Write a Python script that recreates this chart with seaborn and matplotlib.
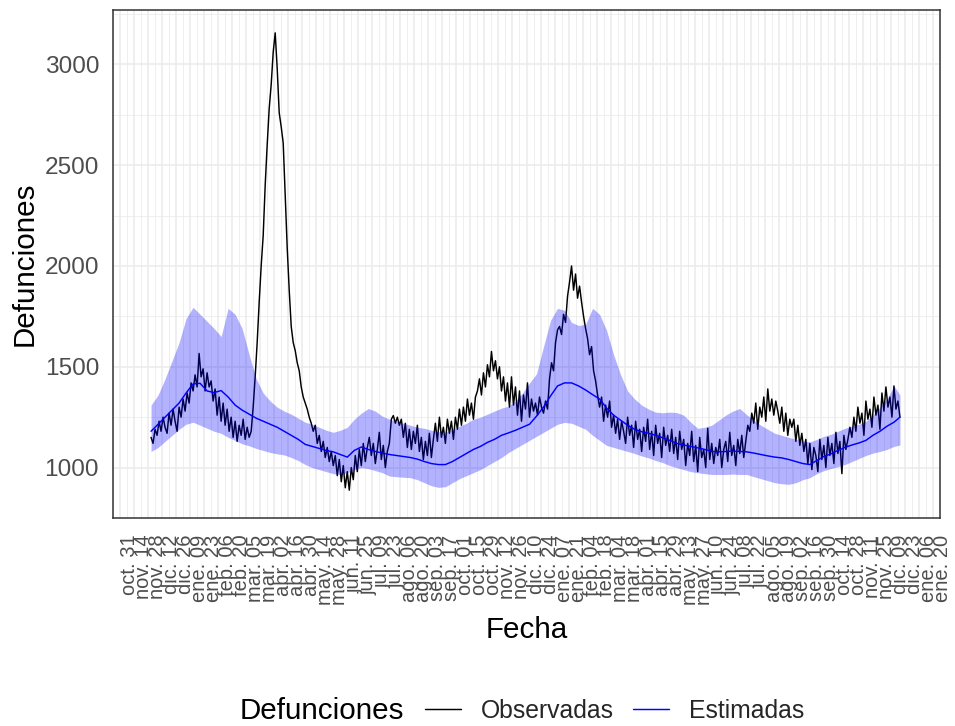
import numpy as np
import pandas as pd
import matplotlib
matplotlib.use("Agg")
import matplotlib.pyplot as plt
import seaborn as sns
from matplotlib.lines import Line2D

# ---------------- data ----------------
START = "2019-12-01"

# observed deaths, one value every 2 days
observadas = [
    1150, 1120, 1190, 1160, 1230, 1180, 1250, 1200, 1170, 1270,
    1210, 1290, 1230, 1180, 1300, 1250, 1340, 1280, 1370, 1320,
    1420, 1380, 1460, 1400, 1566, 1450, 1490, 1380, 1470, 1400,
    1430, 1330, 1390, 1260, 1350, 1230, 1320, 1210, 1290, 1180,
    1250, 1150, 1230, 1130, 1210, 1160, 1240, 1140, 1200, 1150,
    1180, 1300, 1450, 1620, 1820, 2000, 2150, 2400, 2600, 2780,
    2900, 3060, 3156, 2980, 2760, 2690, 2610, 2350, 2090, 1880,
    1700, 1620, 1580, 1520, 1480, 1400, 1350, 1320, 1290, 1250,
    1220, 1180, 1210, 1120, 1160, 1080, 1130, 1050, 1100, 1030,
    1080, 1010, 1060, 960, 1040, 930, 1010, 900, 980, 888,
    1000, 940, 1060, 980, 1090, 1010, 1120, 1030, 1100, 1150,
    1060, 1120, 1020, 1090, 1175, 1040, 1110, 1000, 1080, 1120,
    1240, 1258, 1220, 1250, 1210, 1240, 1150, 1220, 1100, 1190,
    1090, 1180, 1120, 1210, 1080, 1150, 1040, 1130, 1060, 1170,
    1050, 1140, 1220, 1130, 1250, 1150, 1200, 1120, 1240, 1170,
    1230, 1140, 1250, 1190, 1290, 1210, 1300, 1230, 1340, 1260,
    1320, 1240, 1350, 1380, 1440, 1360, 1470, 1400, 1510, 1450,
    1576, 1480, 1530, 1440, 1500, 1380, 1450, 1330, 1420, 1300,
    1450, 1310, 1400, 1260, 1380, 1230, 1360, 1290, 1420, 1250,
    1340, 1280, 1320, 1260, 1350, 1300, 1270, 1330, 1290, 1440,
    1520, 1480, 1620, 1683, 1700, 1660, 1760, 1720, 1850, 1920,
    2000, 1880, 1960, 1840, 1900, 1820, 1750, 1690, 1640, 1560,
    1600, 1480, 1430, 1360, 1300, 1350, 1230, 1310, 1250, 1330,
    1200, 1260, 1170, 1240, 1140, 1230, 1180, 1120, 1250, 1160,
    1210, 1100, 1230, 1140, 1190, 1080, 1200, 1130, 1240, 1090,
    1180, 1060, 1210, 1120, 1170, 1050, 1200, 1110, 1160, 1080,
    1190, 1070, 1150, 1040, 1180, 1090, 1140, 1010, 1120, 1060,
    1180, 1030, 1110, 980, 1150, 1050, 1090, 1000, 1195, 1040,
    1120, 1020, 1100, 1060, 1140, 1000, 1090, 1130, 1030, 1175,
    1060, 1110, 1010, 1140, 1070, 1160, 1050, 1130, 1210, 1180,
    1270, 1220, 1320, 1190, 1300, 1250, 1350, 1230, 1390, 1280,
    1340, 1260, 1330, 1280, 1220, 1300, 1180, 1270, 1160, 1240,
    1200, 1240, 1130, 1210, 1110, 1170, 1080, 1140, 1020, 1120,
    990, 1100, 1060, 980, 1140, 1040, 1110, 1000, 1150, 1060,
    1120, 1020, 1175, 1070, 1130, 970, 1160, 1090, 1140, 1200,
    1150, 1250, 1180, 1300, 1220, 1270, 1160, 1330, 1240, 1290,
    1200, 1350, 1260, 1310, 1190, 1370, 1280, 1400, 1300, 1350,
    1250, 1405, 1290, 1330, 1250,
]

# expected deaths and band, weekly (last value at the end of the observed series)
estimadas = [
    1180, 1215, 1250, 1285, 1320, 1370, 1415, 1418, 1380, 1372,
    1382, 1350, 1310, 1285, 1265, 1245, 1230, 1215, 1200, 1180,
    1160, 1140, 1115, 1105, 1095, 1085, 1078, 1065, 1052, 1085,
    1102, 1090, 1080, 1072, 1065, 1060, 1055, 1050, 1042, 1030,
    1020, 1015, 1015, 1030, 1050, 1070, 1090, 1105, 1125, 1140,
    1160, 1172, 1185, 1200, 1215, 1255, 1300, 1355, 1405, 1420,
    1420, 1405, 1385, 1362, 1340, 1295, 1260, 1235, 1210, 1190,
    1178, 1170, 1160, 1148, 1135, 1120, 1112, 1105, 1098, 1090,
    1080, 1078, 1080, 1082, 1080, 1078, 1072, 1065, 1058, 1052,
    1048, 1040, 1030, 1020, 1015, 1035, 1055, 1068, 1085, 1100,
    1112, 1122, 1135, 1160, 1180, 1205, 1225, 1250,
]
limite_sup = [
    1310, 1360, 1440, 1530, 1620, 1740, 1795, 1760, 1725, 1690,
    1650, 1790, 1760, 1690, 1560, 1440, 1370, 1330, 1300, 1280,
    1265, 1245, 1225, 1215, 1200, 1185, 1175, 1185, 1200, 1240,
    1270, 1293, 1280, 1255, 1240, 1230, 1220, 1210, 1200, 1195,
    1185, 1178, 1175, 1190, 1205, 1220, 1240, 1250, 1265, 1280,
    1295, 1305, 1330, 1370, 1420, 1465, 1600, 1730, 1790, 1780,
    1720, 1705, 1710, 1790, 1760, 1680, 1560, 1460, 1380, 1340,
    1310, 1290, 1275, 1272, 1275, 1273, 1260, 1225, 1195, 1200,
    1210, 1235, 1260, 1280, 1293, 1262, 1235, 1210, 1190, 1170,
    1160, 1150, 1140, 1132, 1127, 1140, 1155, 1165, 1180, 1195,
    1205, 1215, 1230, 1260, 1300, 1340, 1405, 1360,
]
limite_inf = [
    1080, 1100, 1130, 1160, 1190, 1215, 1225, 1210, 1195, 1180,
    1170, 1150, 1135, 1118, 1108, 1095, 1085, 1075, 1068, 1063,
    1050, 1035, 1015, 1000, 990, 980, 970, 965, 975, 990,
    1000, 995, 985, 975, 958, 955, 952, 950, 940, 925,
    910, 902, 905, 925, 945, 960, 975, 990, 1010, 1030,
    1050, 1075, 1095, 1115, 1135, 1155, 1175, 1195, 1215, 1224,
    1220, 1205, 1190, 1160, 1135, 1110, 1100, 1090, 1080, 1070,
    1058, 1048, 1035, 1025, 1010, 1000, 990, 980, 975, 970,
    966, 966, 966, 968, 966, 966, 955, 945, 935, 925,
    920, 917, 925, 940, 950, 970, 985, 995, 1005, 1015,
    1030, 1045, 1060, 1072, 1080, 1090, 1105, 1112,
]

tick_labels = [
    "oct. 31", "nov. 14", "nov. 28", "dic. 12", "dic. 26",
    "ene. 09", "ene. 23", "feb. 06", "feb. 20", "mar. 05", "mar. 19",
    "abr. 02", "abr. 16", "abr. 30", "may. 14", "may. 28", "jun. 11",
    "jun. 25", "jul. 09", "jul. 23", "ago. 06", "ago. 20", "sep. 03",
    "sep. 17", "oct. 01", "oct. 15", "oct. 29", "nov. 12", "nov. 26",
    "dic. 10", "dic. 24",
    "ene. 07", "ene. 21", "feb. 04", "feb. 18", "mar. 04", "mar. 18",
    "abr. 01", "abr. 15", "abr. 29", "may. 13", "may. 27", "jun. 10",
    "jun. 24", "jul. 08", "jul. 22", "ago. 05", "ago. 19", "sep. 02",
    "sep. 16", "sep. 30", "oct. 14", "oct. 28", "nov. 11", "nov. 25",
    "dic. 09", "dic. 23",
    "ene. 06", "ene. 20",
]
FIRST_TICK = "2019-10-31"
y_ticks = [1000, 1500, 2000, 2500, 3000]

# ---------------- frames ----------------
obs_dates = pd.date_range(START, periods=len(observadas), freq="2D")
est_dates = pd.date_range(START, periods=len(estimadas) - 1, freq="7D").append(
    pd.DatetimeIndex([obs_dates[-1]]))
df_obs = pd.DataFrame({"Fecha": obs_dates, "Defunciones": observadas})
df_est = pd.DataFrame({"Fecha": est_dates, "Defunciones": estimadas,
                       "inf": limite_inf, "sup": limite_sup})

# ---------------- style ----------------
sns.set_theme(style="white")
plt.rcParams["font.family"] = ["Liberation Sans", "DejaVu Sans"]

W, H = 955, 726
fig = plt.figure(figsize=(W / 100, H / 100), dpi=100)
L, R, T, B = 113, 940, 10, 518
ax = fig.add_axes([L / W, 1 - B / H, (R - L) / W, (B - T) / H])

sns.lineplot(data=df_obs, x="Fecha", y="Defunciones", color="black",
             linewidth=1.05, estimator=None, ax=ax, zorder=2)
ax.fill_between(df_est["Fecha"], df_est["inf"], df_est["sup"],
                color="blue", alpha=0.3, linewidth=0, zorder=3)
sns.lineplot(data=df_est, x="Fecha", y="Defunciones", color="blue",
             linewidth=1.05, estimator=None, ax=ax, zorder=4)

# limits with 5% expansion (ggplot default)
x0, x1 = obs_dates[0], obs_dates[-1]
span = x1 - x0
ax.set_xlim(x0 - 0.05 * span, x1 + 0.05 * span)
allv = np.concatenate([observadas, limite_inf, limite_sup])
ymin, ymax = allv.min(), allv.max()
yr = ymax - ymin
ax.set_ylim(ymin - 0.05 * yr, ymax + 0.05 * yr)

# ticks
tick_dates = pd.date_range(FIRST_TICK, periods=len(tick_labels), freq="14D")
ax.set_xticks(tick_dates)
ax.set_xticklabels(tick_labels, rotation=90, ha="right", va="top",
                   rotation_mode="anchor", fontsize=14.5, color="#4D4D4D")
minor_x = pd.date_range(tick_dates[0] - pd.Timedelta(days=7),
                        periods=len(tick_labels) + 1, freq="14D")
ax.set_xticks(minor_x, minor=True)
ax.set_yticks(y_ticks)
ax.set_yticklabels([str(v) for v in y_ticks], fontsize=17.6, color="#4D4D4D")
ax.set_yticks([750, 1250, 1750, 2250, 2750, 3250], minor=True)

ax.tick_params(axis="both", which="major", length=5, width=1.0,
               color="#333333", direction="out")
ax.tick_params(axis="x", which="major", pad=7)
ax.tick_params(axis="y", which="major", pad=5)
ax.tick_params(axis="both", which="minor", length=0)

ax.grid(True, which="major", color="#EBEBEB", linewidth=1.1)
ax.grid(True, which="minor", color="#EBEBEB", linewidth=0.55)
ax.set_axisbelow(True)
for s in ax.spines.values():
    s.set_color("#333333")
    s.set_linewidth(1.1)
ax.set_facecolor("white")

ax.set_xlabel("Fecha", fontsize=21.3, color="black")
ax.xaxis.label.set_va("center")
ax.xaxis.set_label_coords(0.5, (B - 630) / (B - T))
ax.set_ylabel("Defunciones", fontsize=21.3, color="black")
ax.yaxis.label.set_va("center")
ax.yaxis.set_label_coords((25 - L) / (R - L), 0.5)

# legend at bottom
fig.text(240 / W, 1 - 711 / H, "Defunciones", fontsize=21.3,
         ha="left", va="center", color="black")
handles = [Line2D([], [], color="black", linewidth=1.05),
           Line2D([], [], color="blue", linewidth=1.05)]
fig.legend(handles, ["Observadas", "Estimadas"], ncol=2, frameon=False,
           loc="center left", bbox_to_anchor=(425 / W, 1 - 711 / H),
           fontsize=17.8, handlelength=1.45, handletextpad=0.8,
           columnspacing=0.8, borderpad=0, borderaxespad=0)

fig.savefig("out.png", dpi=100, facecolor="white")
